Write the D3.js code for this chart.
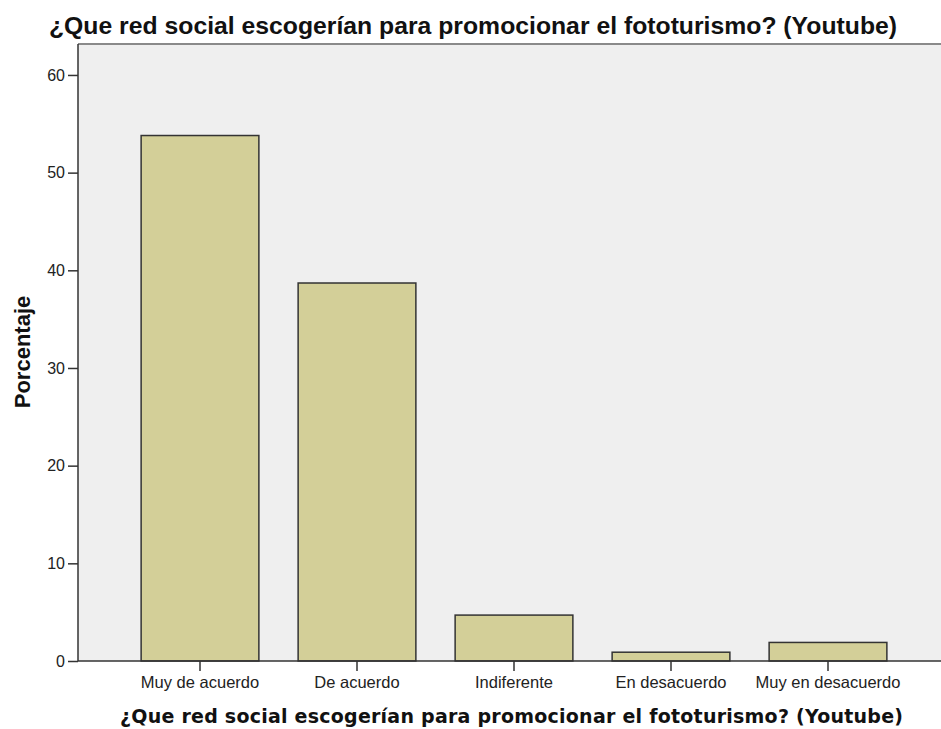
<!DOCTYPE html>
<html>
<head>
<meta charset="utf-8">
<script src="https://cdn.jsdelivr.net/npm/d3@7"></script>
<style>
  body { margin: 0; background: #fff; }
</style>
</head>
<body>
<div id="chart"></div>
<script>
// chart data (percent, n = 106)
var categories = ["Muy de acuerdo", "De acuerdo", "Indiferente", "En desacuerdo", "Muy en desacuerdo"];
var percentages = [53.8, 38.7, 4.7, 0.9, 1.9];
var yTicks = [0, 10, 20, 30, 40, 50, 60];
var titleText = "¿Que red social escogerían para promocionar el fototurismo? (Youtube)";
var yLabel = "Porcentaje";

var width = 941, height = 729;
var plotLeft = 78, plotTop = 44, plotRight = 941, plotBottom = 661;

var svg = d3.select("#chart")
    .append("svg")
    .attr("width", width)
    .attr("height", height)
    .style("font-family", "'Liberation Sans', Arial, sans-serif");

// plot background
svg.append("rect")
    .attr("x", plotLeft)
    .attr("y", plotTop)
    .attr("width", plotRight - plotLeft)
    .attr("height", plotBottom - plotTop)
    .attr("fill", "#efefef");

// top border
svg.append("line")
    .attr("x1", plotLeft).attr("x2", plotRight)
    .attr("y1", plotTop).attr("y2", plotTop)
    .attr("stroke", "#8a8a8a")
    .attr("stroke-width", 2);

// scales
var xScale = d3.scaleBand()
    .domain(categories)
    .range([121.5, 906.5])
    .paddingInner(0.25)
    .paddingOuter(0.125);

var yScale = d3.scaleLinear()
    .domain([0, 63.17])
    .range([plotBottom, plotTop]);

// bars
svg.append("g")
    .selectAll("rect")
    .data(percentages)
    .enter()
    .append("rect")
    .attr("x", function (d, i) { return xScale(categories[i]); })
    .attr("y", function (d) { return yScale(d); })
    .attr("width", xScale.bandwidth())
    .attr("height", function (d) { return plotBottom - yScale(d); })
    .attr("fill", "#d3cf98")
    .attr("stroke", "#333")
    .attr("stroke-width", 1.5);

// y axis
var yAxisG = svg.append("g")
    .attr("transform", `translate(${plotLeft}, 0)`)
    .call(d3.axisLeft(yScale).tickValues(yTicks).tickSize(10).tickPadding(3).tickSizeOuter(0));
yAxisG.select(".domain").attr("stroke", "#333").attr("stroke-width", 1.5)
    .attr("d", `M0,${plotTop}V${plotBottom}`);
yAxisG.selectAll(".tick line").attr("stroke", "#333").attr("stroke-width", 1.5);
yAxisG.selectAll(".tick text")
    .style("font-size", "16px")
    .style("font-family", "'Liberation Sans', Arial, sans-serif")
    .attr("fill", "#222");

// x axis
var xAxisG = svg.append("g")
    .attr("transform", `translate(0, ${plotBottom})`)
    .call(d3.axisBottom(xScale).tickSize(10).tickPadding(5).tickSizeOuter(0));
xAxisG.select(".domain").attr("stroke", "#333").attr("stroke-width", 1.5)
    .attr("d", `M${plotLeft},0H${plotRight}`);
xAxisG.selectAll(".tick line").attr("stroke", "#333").attr("stroke-width", 1.5);
xAxisG.selectAll(".tick text")
    .style("font-size", "16.5px")
    .style("font-family", "'Liberation Sans', Arial, sans-serif")
    .attr("fill", "#222");

// main title
svg.append("text")
    .attr("x", 49)
    .attr("y", 34)
    .attr("textLength", 848)
    .attr("lengthAdjust", "spacingAndGlyphs")
    .style("font-size", "24.5px")
    .style("font-weight", "bold")
    .style("fill", "#111")
    .text(titleText);

// x axis title
svg.append("text")
    .attr("x", 120)
    .attr("y", 723)
    .attr("textLength", 783)
    .attr("lengthAdjust", "spacing")
    .style("font-family", "'DejaVu Sans', sans-serif")
    .style("font-size", "19px")
    .style("font-weight", "bold")
    .style("fill", "#111")
    .text(titleText);

// y axis title
svg.append("text")
    .attr("transform", "translate(30, 352) rotate(-90)")
    .attr("text-anchor", "middle")
    .style("font-size", "22px")
    .style("font-weight", "bold")
    .style("fill", "#111")
    .text(yLabel);
</script>
</body>
</html>
